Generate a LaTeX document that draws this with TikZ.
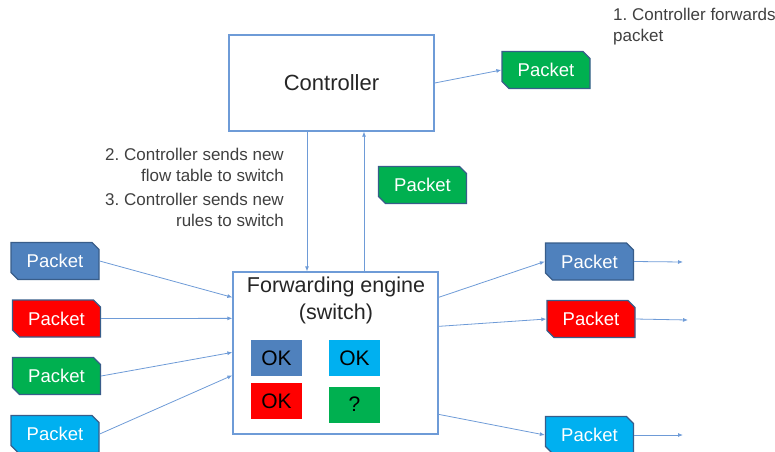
\documentclass[tikz,border=0pt]{standalone}
\usepackage{fontspec}
\setmainfont{Liberation Sans}
\usetikzlibrary{shapes.misc,arrows.meta,calc}
\definecolor{pblue}{RGB}{79,129,189}
\definecolor{pred}{RGB}{255,0,0}
\definecolor{pgreen}{RGB}{0,176,80}
\definecolor{pcyan}{RGB}{0,176,240}
\definecolor{pborder}{RGB}{56,93,138}
\definecolor{lineblue}{RGB}{110,155,215}
\definecolor{txtgray}{RGB}{64,64,64}
\tikzset{
  packet/.style={chamfered rectangle, chamfered rectangle corners={north east,south west},
    chamfered rectangle xsep=3.5pt, chamfered rectangle ysep=3.5pt,
    draw=pborder, line width=1.3pt, fill=#1, text=white, inner sep=0pt,
    minimum width=88pt, minimum height=37pt, font=\fontsize{18.5}{22}\selectfont},
  bigbox/.style={draw=lineblue, line width=1.3pt, fill=white, inner sep=0pt},
  okbox/.style={fill=#1, inner sep=0pt, minimum width=51pt, minimum height=36pt,
    font=\fontsize{21}{24}\selectfont, text=black},
  arr/.style={draw=lineblue, line width=0.8pt, -{Latex[length=5pt,width=4pt]}},
  note/.style={text=txtgray, font=\fontsize{17}{21}\selectfont, inner sep=0pt}
}
\begin{document}
\frenchspacing
\begin{tikzpicture}[x=1pt,y=-1pt]
\useasboundingbox (0,0) rectangle (775,451);
% boxes
\node[bigbox, minimum width=205pt, minimum height=96pt, font=\fontsize{22}{26}\selectfont, text=black!85] (ctrl) at (331.5,83) {Controller};
\node[bigbox, minimum width=205pt, minimum height=162pt] (eng) at (335.5,353) {};
\node[anchor=north, align=center, inner sep=0pt, font=\fontsize{21.5}{27}\selectfont, text=black!85] (engt) at (336,277) {Forwarding engine\\(switch)};
\node[okbox=pblue] (ok1) at (276.5,358) {OK};
\node[okbox=pcyan] (ok2) at (354.5,358) {OK};
\node[okbox=pred] (ok3) at (276.5,401) {OK};
\node[okbox=pgreen] (ok4) at (354.5,404.5) {?};
% packets
\node[packet=pgreen] (pk1) at (546,70) {Packet};
\node[packet=pgreen] (pk2) at (422.5,185) {Packet};
\node[packet=pblue] (l1) at (55,261) {Packet};
\node[packet=pred] (l2) at (56.5,318.5) {Packet};
\node[packet=pgreen] (l3) at (56.5,376) {Packet};
\node[packet=pcyan] (l4) at (55,434) {Packet};
\node[packet=pblue] (r1) at (589.5,261.5) {Packet};
\node[packet=pred] (r2) at (591,319) {Packet};
\node[packet=pcyan] (r3) at (589.5,435) {Packet};
% notes
\node[note, anchor=west, align=left] (n1) at (613,26.5) {1. Controller forwards\\packet};
\node[note, anchor=east, align=right] (n2) at (284,165) {2. Controller sends new\\flow table to switch};
\node[note, anchor=east, align=right] (n3) at (284,210) {3. Controller sends new\\rules to switch};
% named points
\coordinate (xd) at (307,0);
\coordinate (xu) at (364,0);
\coordinate (o1) at (683,262);
\coordinate (o2) at (688,320);
\coordinate (o3) at (683,435);
% connectors
\draw[arr] (ctrl.east) -- (pk1.west);
\draw[arr] (ctrl.south -| xd) -- (eng.north -| xd);
\draw[arr] (eng.north -| xu) -- (ctrl.south -| xu);
\draw[arr] (l1.east) -- ($(eng.north west)+(0,26)$);
\draw[arr] (l2.east) -- ($(eng.north west)+(0,47)$);
\draw[arr] (l3.east) -- ($(eng.north west)+(0,81)$);
\draw[arr] (l4.east) -- ($(eng.north west)+(0,104)$);
\draw[arr] ($(eng.north east)+(0,26)$) -- (r1.west);
\draw[arr] ($(eng.north east)+(0,55)$) -- (r2.west);
\draw[arr] ($(eng.north east)+(0,143)$) -- (r3.west);
\draw[arr] (r1.east) -- (o1);
\draw[arr] (r2.east) -- (o2);
\draw[arr] (r3.east) -- (o3);
\end{tikzpicture}
\end{document}
